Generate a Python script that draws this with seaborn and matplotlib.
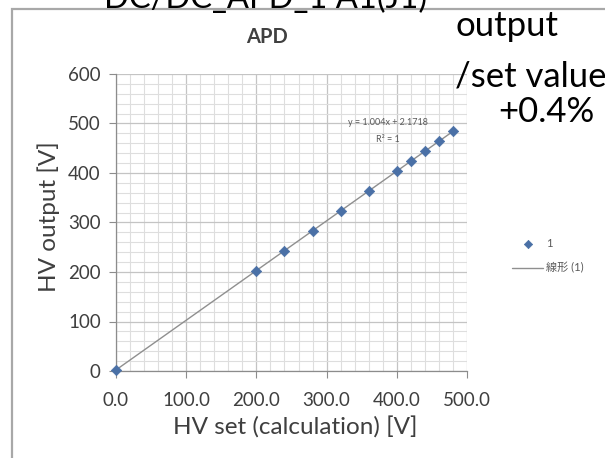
import matplotlib
matplotlib.use("Agg")
import matplotlib.pyplot as plt
import seaborn as sns
import pandas as pd
from matplotlib.ticker import MultipleLocator, FormatStrFormatter
from matplotlib.patches import Rectangle

# ---- data ----
hv_set = [0, 200, 240, 280, 320, 360, 400, 420, 440, 460, 480]
hv_output = [2.2, 202.9, 243.1, 283.3, 323.4, 363.6, 403.8, 423.9, 444.0, 464.1, 484.1]
x_ticks = [0, 100, 200, 300, 400, 500]
y_ticks = [0, 100, 200, 300, 400, 500, 600]
series_label = "1"
trend_label = "線形 (1)"
equation_text = "y = 1.004x + 2.1718"
r2_text = "R² = 1"
chart_title = "APD"
slide_title = "DC/DC_APD_1 A1(J1)"
note_lines = ["output", "/set value", "+0.4%"]

df = pd.DataFrame({"set": hv_set, "out": hv_output})

sns.set_theme(style="white")
plt.rcParams["font.family"] = ["Lato", "Noto Sans CJK JP", "DejaVu Sans"]

W, H = 605, 458
fig = plt.figure(figsize=(W / 100, H / 100), dpi=100)
fig.patch.set_facecolor("white")

# slide frame around the chart
fig.patches.append(Rectangle((12 / W, -0.1), 1.2, 1 - 9 / H + 0.1, transform=fig.transFigure,
                             fill=False, edgecolor="#a8a8a8", lw=1.6))

L, R, T, B = 116, 467, 74, 371
ax = fig.add_axes([L / W, 1 - B / H, (R - L) / W, (B - T) / H])
ax.set_facecolor("white")

sns.regplot(data=df, x="set", y="out", scatter=False, ci=None, truncate=True, ax=ax,
            color="#8f8f8f", label=trend_label, line_kws={"lw": 1.0, "zorder": 3})
sns.scatterplot(data=df, x="set", y="out", marker="D", s=28, color="#4a70a6",
                edgecolor="#4a70a6", linewidth=0.5, ax=ax, label=series_label, zorder=4,
                clip_on=False)

ax.set_xlim(0, 500)
ax.set_ylim(0, 600)
ax.set_xticks(x_ticks)
ax.set_yticks(y_ticks)
ax.xaxis.set_major_formatter(FormatStrFormatter("%.1f"))
ax.xaxis.set_minor_locator(MultipleLocator(20))
ax.yaxis.set_minor_locator(MultipleLocator(20))
ax.grid(True, which="major", color="#c4c4c4", lw=0.9, zorder=0)
ax.grid(True, which="minor", color="#dedede", lw=0.8, zorder=0)
ax.set_axisbelow(True)

for s in ["top", "right"]:
    ax.spines[s].set_visible(False)
for s in ["left", "bottom"]:
    ax.spines[s].set_color("#8c8c8c")
    ax.spines[s].set_linewidth(0.9)

ax.tick_params(axis="both", which="major", length=5, width=0.8, color="#8c8c8c",
               labelsize=13.5, labelcolor="#3f3f3f", bottom=True, left=True)
ax.tick_params(axis="x", pad=10)
ax.tick_params(axis="y", pad=6)
ax.tick_params(which="minor", length=0)

ax.set_xlabel("HV set (calculation) [V]", fontsize=17.5, color="#3f3f3f")
ax.set_ylabel("HV output [V]", fontsize=17.5, color="#3f3f3f")
ax.xaxis.set_label_coords((295 - L) / (R - L), (B - 417) / (B - T))
ax.yaxis.set_label_coords((60 - L) / (R - L), (B - 217) / (B - T))

ax.text(388, 503, equation_text, ha="center", va="center", fontsize=6.5, color="#595959")
ax.text(387, 467, r2_text, ha="center", va="center", fontsize=6.5, color="#595959")

handles, labels = ax.get_legend_handles_labels()
order = [labels.index(series_label), labels.index(trend_label)]
ax.legend([handles[i] for i in order], [labels[i] for i in order],
          loc="center left", bbox_to_anchor=(512 / W, 1 - 256 / H), bbox_transform=fig.transFigure,
          frameon=False, fontsize=8, labelcolor="#595959", handlelength=2.8,
          handletextpad=0.3, labelspacing=1.2, borderpad=0, borderaxespad=0,
          scatterpoints=1, markerscale=0.8)

fig.text(267 / W, 1 - 37 / H, chart_title, ha="center", va="center", fontsize=14.5,
         fontweight="bold", color="#404040")
fig.text(266 / W, 1 - 8 / H, slide_title, ha="center", va="baseline", fontsize=23.5, color="black")
fig.text(455 / W, 1 - 36 / H, note_lines[0], ha="left", va="baseline", fontsize=25, color="black")
fig.text(455 / W, 1 - 86 / H, note_lines[1], ha="left", va="baseline", fontsize=25, color="black")
fig.text(498 / W, 1 - 122 / H, note_lines[2], ha="left", va="baseline", fontsize=25, color="black")

fig.savefig("out.png", dpi=100)
